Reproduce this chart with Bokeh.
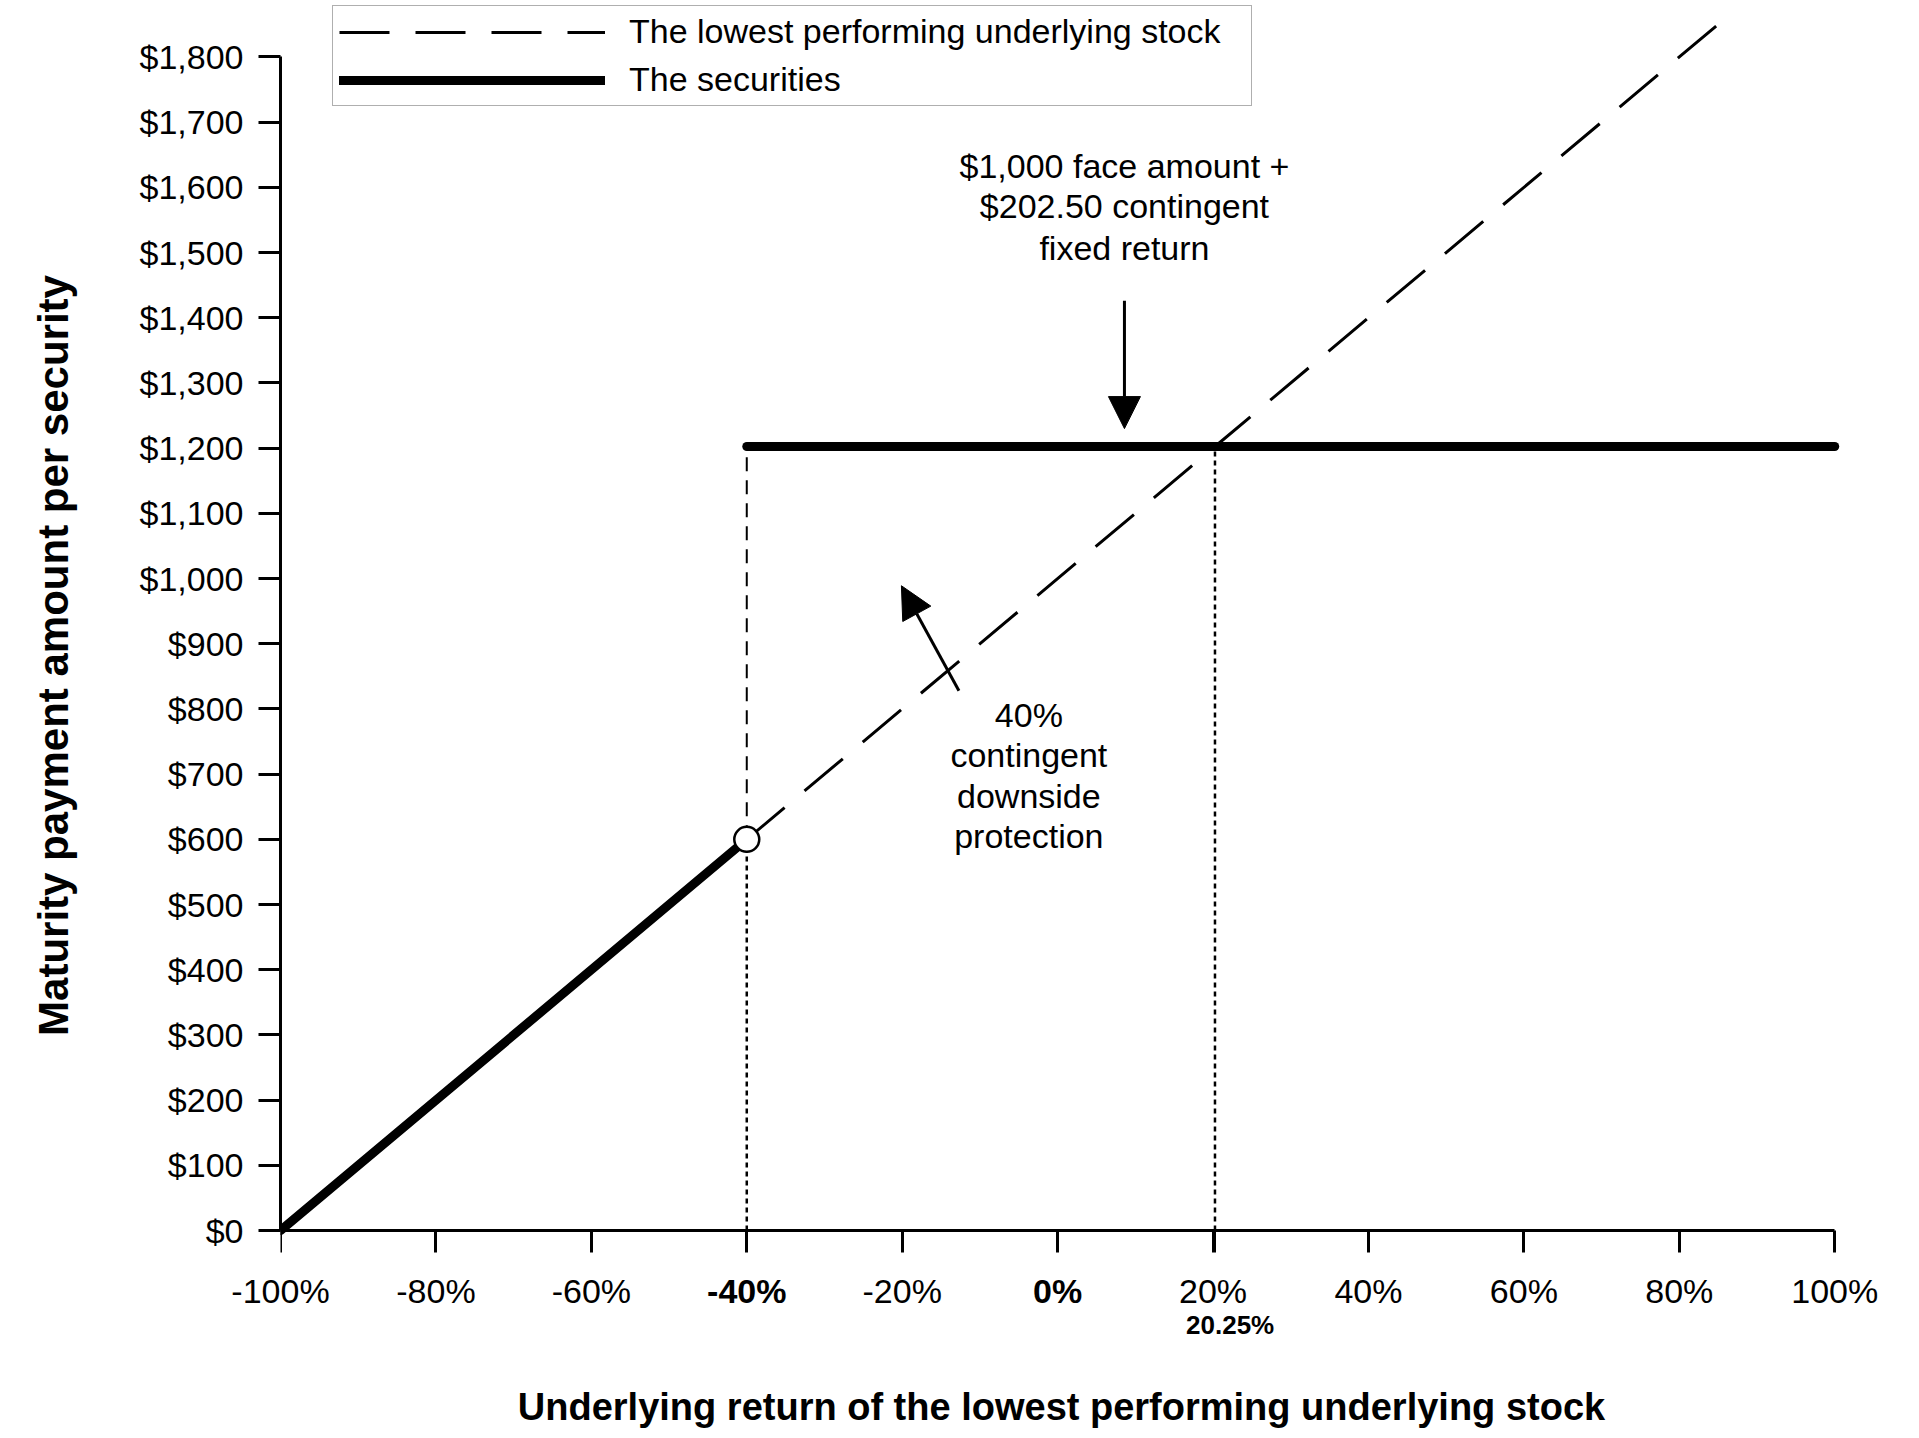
from bokeh.plotting import figure
from bokeh.models import (Range1d, FixedTicker, Arrow, NormalHead, Legend, LegendItem,
                          LinearAxis)
from bokeh.embed import file_html
from bokeh.resources import INLINE
from bokeh.core.properties import value

# ---------------- data ----------------
stock_return = [-100, 87]          # underlying return (%)
stock_payment = [0, 1870]          # payment if tracking the stock ($)

sec_low_return = [-100, -40]       # securities below the barrier
sec_low_payment = [0, 600]
sec_high_return = [-40, 100]       # securities with contingent fixed return
sec_high_payment = [1202.5, 1202.5]

barrier_return = -40
barrier_payment = 600
cap_return = 20.25
cap_payment = 1202.5

x_ticks = [-100, -80, -60, -40, -20, 0, 20, 20.25, 40, 60, 80, 100]
x_tick_labels = ["-100%", "-80%", "-60%", "", "-20%", "", "20%", "", "40%", "60%", "80%", "100%"]
bold_tick_x = [-40, 0]
bold_tick_labels = ["-40%", "0%"]
cap_label_x = [22.2]
cap_label_text = ["20.25%"]

y_ticks = [0, 100, 200, 300, 400, 500, 600, 700, 800, 900, 1000,
           1100, 1200, 1300, 1400, 1500, 1600, 1700, 1800]
y_tick_labels = ["$0", "$100", "$200", "$300", "$400", "$500", "$600", "$700", "$800", "$900",
                 "$1,000", "$1,100", "$1,200", "$1,300", "$1,400", "$1,500", "$1,600", "$1,700", "$1,800"]

note_top_lines = ["$1,000 face amount +", "$202.50 contingent", "fixed return"]
note_top_x = 8.6
note_top_y = [1633, 1571, 1507]
note_mid_lines = ["40%", "contingent", "downside", "protection"]
note_mid_x = -3.7
note_mid_y = [791, 729, 666, 605]

arrow_down = [8.6, 1426, 8.6, 1230]      # x_start, y_start, x_end, y_end
arrow_diag = [-12.7, 828, -20.1, 989]

legend_labels = ["The lowest performing underlying stock", "The securities"]
x_title = "Underlying return of the lowest performing underlying stock"
y_title = "Maturity payment amount per security"

# ---------------- figure ----------------
FONT = "Liberation Sans"
W, H = 1900, 1430
BL, BR, BT, BB = 280, 58, 3, 115
X0, X1, Y0, Y1 = -100, 101, -118, 1882

p = figure(width=W, height=H, x_range=Range1d(X0, X1), y_range=Range1d(Y0, Y1),
           output_backend="svg", toolbar_location=None, tools="",
           min_border_left=BL, min_border_right=BR, min_border_top=BT, min_border_bottom=BB)
p.outline_line_color = None
p.grid.visible = False
p.background_fill_color = "white"
p.border_fill_color = "white"


def style_axis(ax):
    ax.axis_line_width = 3
    ax.axis_line_color = "black"
    ax.major_tick_line_width = 3
    ax.major_tick_line_color = "black"
    ax.major_tick_out = 22
    ax.major_tick_in = 0
    ax.minor_tick_line_color = None
    ax.major_label_text_font = FONT
    ax.major_label_text_font_size = "34px"
    ax.major_label_text_color = "black"
    ax.axis_label_text_font = FONT
    ax.axis_label_text_font_style = "bold"
    ax.axis_label_text_color = "black"


def bare(ax):
    ax.axis_line_color = None
    ax.major_tick_out = 0
    ax.major_tick_line_color = None


# x axis line and tick marks, pinned at $0
xa = p.xaxis[0]
style_axis(xa)
xa.fixed_location = 0
xa.ticker = FixedTicker(ticks=x_ticks)
xa.major_label_overrides = {t: "" for t in x_ticks}
xa.bounds = (-100, 100)

# regular x tick labels
xl = LinearAxis(ticker=FixedTicker(ticks=x_ticks),
                major_label_overrides={t: l for t, l in zip(x_ticks, x_tick_labels)})
style_axis(xl)
bare(xl)
xl.major_label_standoff = -36
p.add_layout(xl, "below")

# bold tick labels (-40%, 0%)
xb = LinearAxis(fixed_location=0, ticker=FixedTicker(ticks=bold_tick_x),
                major_label_overrides={t: l for t, l in zip(bold_tick_x, bold_tick_labels)})
style_axis(xb)
bare(xb)
xb.major_label_standoff = 41
xb.major_label_text_font_style = "bold"
p.add_layout(xb, "below")

# 20.25% marker and the x axis title
xc = LinearAxis(ticker=FixedTicker(ticks=cap_label_x),
                major_label_overrides={t: l for t, l in zip(cap_label_x, cap_label_text)})
style_axis(xc)
bare(xc)
xc.major_label_standoff = -3
xc.major_label_text_font_size = "26px"
xc.major_label_text_font_style = "bold"
xc.axis_label = x_title
xc.axis_label_text_font_size = "38px"
xc.axis_label_standoff = 43
p.add_layout(xc, "below")

ya = p.yaxis[0]
style_axis(ya)
ya.ticker = FixedTicker(ticks=y_ticks)
ya.major_label_overrides = {t: l for t, l in zip(y_ticks, y_tick_labels)}
ya.bounds = (0, 1800)
ya.major_label_standoff = 15
ya.axis_label = y_title
ya.axis_label_text_font_size = "42px"
ya.axis_label_standoff = 60

# ---------------- glyphs ----------------
r_stock = p.line(stock_return, stock_payment, line_color="black", line_width=3, line_dash="50 26")

p.line([barrier_return, barrier_return], [barrier_payment, cap_payment],
       line_color="black", line_width=2, line_dash="14 9")
p.line([barrier_return, barrier_return], [0, barrier_payment],
       line_color="black", line_width=2.5, line_dash="5 4")
p.line([cap_return, cap_return], [0, cap_payment],
       line_color="black", line_width=2.5, line_dash="5 4")

r_low = p.line(sec_low_return, sec_low_payment, line_color="black", line_width=9, line_cap="round")
r_high = p.line(sec_high_return, sec_high_payment, line_color="black", line_width=9, line_cap="round")

p.scatter([barrier_return], [barrier_payment], size=25, fill_color="white",
          line_color="black", line_width=2.5)

head_kw = dict(size=32, fill_color="black", line_color="black", line_width=1)
p.add_layout(Arrow(end=NormalHead(**head_kw), x_start=arrow_down[0], y_start=arrow_down[1],
                   x_end=arrow_down[2], y_end=arrow_down[3], line_width=3, line_color="black"))
p.add_layout(Arrow(end=NormalHead(**head_kw), x_start=arrow_diag[0], y_start=arrow_diag[1],
                   x_end=arrow_diag[2], y_end=arrow_diag[3], line_width=3, line_color="black"))

p.text(x=[note_top_x] * len(note_top_lines), y=note_top_y, text=note_top_lines,
       text_font=value(FONT), text_font_size="34px", text_align="center",
       text_baseline="middle", text_color="black")
p.text(x=[note_mid_x] * len(note_mid_lines), y=note_mid_y, text=note_mid_lines,
       text_font=value(FONT), text_font_size="34px", text_align="center",
       text_baseline="middle", text_color="black")

# ---------------- legend ----------------
legend = Legend(items=[LegendItem(label=legend_labels[0], renderers=[r_stock]),
                       LegendItem(label=legend_labels[1], renderers=[r_low, r_high])],
                location=(52, 1201))
legend.label_text_font = FONT
legend.label_text_font_size = "34px"
legend.label_text_color = "black"
legend.glyph_width = 266
legend.glyph_height = 36
legend.label_standoff = 24
legend.label_width = 616
legend.padding = 6
legend.spacing = 9
legend.margin = 0
legend.border_line_color = "#606060"
legend.border_line_width = 1.5
legend.background_fill_color = "white"
legend.background_fill_alpha = 1
p.add_layout(legend)

open("out.html", "w").write(file_html(p, INLINE))
